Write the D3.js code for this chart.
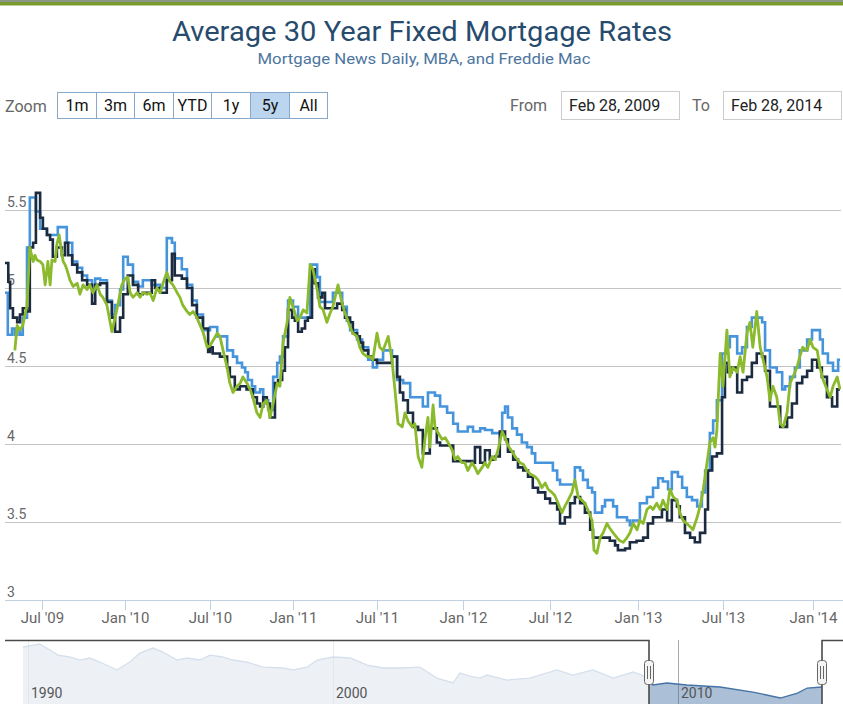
<!DOCTYPE html>
<html><head><meta charset="utf-8">
<script src="https://cdnjs.cloudflare.com/ajax/libs/d3/7.8.5/d3.min.js"></script>
<style>
body{margin:0;background:#fff}
svg{display:block}
text{font-family:Roboto,"Open Sans","Liberation Sans",sans-serif}
</style></head>
<body><svg id="chart" width="843" height="704"></svg>
<script>
// ---------------- DATA ----------------
const titleText = "Average 30 Year Fixed Mortgage Rates";
const subtitleText = "Mortgage News Daily, MBA, and Freddie Mac";
const zoomButtons = ["1m","3m","6m","YTD","1y","5y","All"];
const selectedButton = "5y";
const fromText = "Feb 28, 2009";
const toText = "Feb 28, 2014";
const rangeStart = "2009-04-13";   // first visible date of the (cropped) plot
const rangeEnd = "2014-02-28";
const selectionStart = "2009-02-28";
const xTickDates = ["2009-07-01","2010-01-01","2010-07-01","2011-01-01","2011-07-01","2012-01-01","2012-07-01","2013-01-01","2013-07-01","2014-01-01"];
const xTickLabels = ["Jul '09","Jan '10","Jul '10","Jan '11","Jul '11","Jan '12","Jul '12","Jan '13","Jul '13","Jan '14"];
const yTickValues = [3, 3.5, 4, 4.5, 5, 5.5];
const yTickLabels = ["3","3.5","4","4.5","5","5.5"];
const navTickDates = ["1990-01-01","2000-01-01","2010-01-01"];
const navTickLabels = ["1990","2000","2010"];

// MBA weekly (light blue step line)
const mbaRates = [["2009-04-13",4.97],["2009-04-19",4.70],["2009-04-28",4.74],["2009-05-04",4.70],["2009-05-09",4.74],["2009-05-15",4.70],["2009-05-21",4.81],["2009-05-30",5.26],["2009-06-05",5.58],["2009-06-18",5.49],["2009-06-27",5.38],["2009-07-12",5.34],["2009-08-05",5.39],["2009-08-25",5.29],["2009-09-06",5.17],["2009-09-17",5.13],["2009-09-28",5.08],["2009-10-09",5.05],["2009-10-20",4.99],["2009-10-27",5.06],["2009-11-07",5.05],["2009-11-22",4.92],["2009-12-03",4.83],["2009-12-10",4.89],["2009-12-21",4.99],["2009-12-28",5.20],["2010-01-07",5.15],["2010-01-18",5.04],["2010-01-29",5.01],["2010-02-08",5.05],["2010-02-27",5.02],["2010-03-17",5.00],["2010-03-31",5.32],["2010-04-11",5.29],["2010-04-17",5.19],["2010-05-02",5.12],["2010-05-13",5.02],["2010-05-24",4.92],["2010-06-03",4.83],["2010-06-16",4.73],["2010-07-01",4.75],["2010-07-17",4.69],["2010-08-08",4.60],["2010-08-21",4.56],["2010-08-30",4.52],["2010-09-10",4.49],["2010-09-17",4.46],["2010-09-23",4.41],["2010-10-02",4.37],["2010-10-09",4.33],["2010-10-20",4.35],["2010-10-27",4.28],["2010-11-07",4.22],["2010-11-18",4.43],["2010-11-27",4.52],["2010-12-03",4.56],["2010-12-10",4.69],["2010-12-21",4.92],["2011-01-01",4.88],["2011-01-12",4.81],["2011-02-07",5.15],["2011-02-22",5.07],["2011-02-28",4.91],["2011-03-28",4.97],["2011-04-17",4.88],["2011-04-27",4.79],["2011-05-04",4.73],["2011-05-19",4.67],["2011-05-30",4.62],["2011-06-12",4.54],["2011-06-22",4.49],["2011-07-01",4.54],["2011-07-14",4.60],["2011-08-02",4.56],["2011-08-13",4.41],["2011-08-26",4.39],["2011-09-10",4.30],["2011-10-07",4.24],["2011-10-18",4.33],["2011-11-02",4.31],["2011-11-13",4.24],["2011-11-28",4.20],["2011-12-11",4.13],["2011-12-21",4.08],["2012-01-11",4.11],["2012-01-22",4.08],["2012-02-06",4.10],["2012-02-16",4.09],["2012-03-02",4.07],["2012-03-23",4.20],["2012-03-29",4.24],["2012-04-04",4.17],["2012-04-13",4.10],["2012-04-23",4.06],["2012-05-03",4.01],["2012-05-14",3.98],["2012-05-24",3.94],["2012-05-31",3.88],["2012-07-07",3.83],["2012-07-16",3.77],["2012-07-22",3.74],["2012-08-22",3.85],["2012-09-02",3.83],["2012-09-08",3.77],["2012-09-18",3.72],["2012-09-27",3.69],["2012-10-03",3.56],["2012-10-18",3.60],["2012-10-24",3.64],["2012-11-10",3.60],["2012-11-18",3.53],["2012-12-09",3.51],["2012-12-15",3.48],["2012-12-21",3.51],["2013-01-05",3.62],["2013-01-20",3.66],["2013-02-02",3.72],["2013-02-13",3.78],["2013-02-23",3.76],["2013-03-06",3.71],["2013-03-14",3.82],["2013-03-27",3.79],["2013-04-05",3.72],["2013-04-15",3.66],["2013-04-26",3.64],["2013-05-07",3.60],["2013-05-17",3.69],["2013-05-24",3.83],["2013-06-03",4.07],["2013-06-10",4.15],["2013-06-18",4.28],["2013-06-29",4.58],["2013-07-09",4.62],["2013-07-15",4.69],["2013-07-30",4.58],["2013-08-09",4.62],["2013-08-19",4.75],["2013-08-29",4.81],["2013-09-19",4.78],["2013-09-25",4.60],["2013-10-05",4.49],["2013-10-19",4.46],["2013-10-30",4.35],["2013-11-05",4.37],["2013-11-15",4.43],["2013-11-25",4.49],["2013-12-05",4.60],["2013-12-20",4.67],["2013-12-30",4.73],["2014-01-16",4.67],["2014-01-22",4.58],["2014-02-02",4.52],["2014-02-13",4.47],["2014-02-24",4.54]];

// Freddie Mac weekly (dark navy step line)
const freddieRates = [["2009-04-13",5.16],["2009-04-20",5.04],["2009-04-24",4.87],["2009-04-30",4.81],["2009-05-09",4.78],["2009-05-15",4.83],["2009-05-21",4.87],["2009-05-30",4.85],["2009-06-05",5.26],["2009-06-12",5.29],["2009-06-18",5.61],["2009-06-27",5.45],["2009-07-03",5.38],["2009-07-12",5.34],["2009-07-19",5.31],["2009-07-25",5.20],["2009-08-03",5.26],["2009-08-14",5.21],["2009-08-21",5.29],["2009-08-28",5.21],["2009-09-06",5.15],["2009-09-17",5.10],["2009-09-28",5.05],["2009-10-09",5.02],["2009-10-20",4.90],["2009-10-27",5.02],["2009-11-07",5.03],["2009-11-22",4.91],["2009-12-03",4.81],["2009-12-10",4.72],["2009-12-21",4.81],["2009-12-28",4.96],["2010-01-07",5.08],["2010-01-18",5.02],["2010-01-29",4.96],["2010-02-08",4.97],["2010-02-27",5.05],["2010-03-06",5.00],["2010-03-17",4.97],["2010-03-31",5.05],["2010-04-11",5.22],["2010-04-17",5.08],["2010-05-02",5.06],["2010-05-13",5.00],["2010-05-24",4.89],["2010-06-03",4.81],["2010-06-16",4.74],["2010-06-27",4.59],["2010-07-01",4.62],["2010-07-07",4.58],["2010-07-23",4.56],["2010-08-08",4.49],["2010-08-14",4.43],["2010-08-25",4.35],["2010-09-05",4.37],["2010-09-20",4.35],["2010-10-04",4.30],["2010-10-13",4.26],["2010-10-20",4.24],["2010-10-27",4.30],["2010-11-04",4.26],["2010-11-11",4.17],["2010-11-22",4.39],["2010-11-29",4.41],["2010-12-08",4.47],["2010-12-14",4.62],["2010-12-21",4.86],["2010-12-30",4.81],["2011-01-05",4.79],["2011-01-12",4.72],["2011-01-20",4.74],["2011-01-27",4.79],["2011-02-02",4.81],["2011-02-11",5.12],["2011-02-17",5.03],["2011-02-24",4.94],["2011-03-05",4.97],["2011-03-11",4.87],["2011-04-06",4.90],["2011-04-17",4.86],["2011-04-23",4.81],["2011-05-04",4.78],["2011-05-10",4.71],["2011-05-19",4.69],["2011-05-25",4.65],["2011-06-01",4.60],["2011-06-12",4.56],["2011-06-22",4.54],["2011-07-01",4.52],["2011-08-02",4.56],["2011-08-13",4.43],["2011-08-19",4.33],["2011-08-26",4.28],["2011-09-05",4.20],["2011-09-16",4.11],["2011-09-27",4.09],["2011-10-07",3.94],["2011-10-22",4.10],["2011-11-06",4.01],["2011-11-13",3.99],["2011-12-11",3.89],["2012-01-20",3.88],["2012-01-26",3.98],["2012-02-06",3.88],["2012-02-16",3.96],["2012-02-26",3.90],["2012-03-08",3.92],["2012-03-18",4.08],["2012-03-29",4.03],["2012-04-04",3.95],["2012-04-15",3.90],["2012-04-25",3.85],["2012-05-06",3.83],["2012-05-16",3.79],["2012-05-26",3.72],["2012-06-06",3.69],["2012-06-21",3.65],["2012-07-01",3.62],["2012-07-16",3.58],["2012-07-22",3.49],["2012-08-01",3.53],["2012-08-12",3.62],["2012-08-22",3.66],["2012-09-02",3.62],["2012-09-12",3.56],["2012-09-23",3.45],["2012-09-29",3.40],["2012-11-03",3.38],["2012-11-14",3.35],["2012-11-20",3.32],["2012-12-05",3.33],["2012-12-15",3.37],["2012-12-29",3.38],["2013-01-12",3.40],["2013-01-22",3.49],["2013-02-02",3.53],["2013-02-21",3.58],["2013-03-04",3.51],["2013-03-14",3.64],["2013-03-25",3.60],["2013-03-31",3.53],["2013-04-11",3.43],["2013-04-22",3.40],["2013-05-02",3.37],["2013-05-13",3.43],["2013-05-24",3.58],["2013-05-30",3.83],["2013-06-08",3.92],["2013-06-18",3.94],["2013-06-29",4.30],["2013-07-05",4.52],["2013-07-11",4.46],["2013-07-19",4.49],["2013-07-30",4.33],["2013-08-09",4.41],["2013-08-19",4.43],["2013-08-29",4.52],["2013-09-08",4.58],["2013-09-19",4.56],["2013-09-25",4.47],["2013-10-05",4.24],["2013-10-26",4.11],["2013-11-09",4.17],["2013-11-19",4.26],["2013-11-29",4.39],["2013-12-10",4.43],["2013-12-20",4.47],["2013-12-30",4.54],["2014-01-10",4.49],["2014-01-20",4.43],["2014-01-31",4.30],["2014-02-11",4.24],["2014-02-22",4.35]];

// Mortgage News Daily (green, daily)
const mndRates = [["2009-05-04",4.60],["2009-05-09",4.76],["2009-05-15",4.73],["2009-05-21",4.76],["2009-05-30",4.89],["2009-06-05",5.26],["2009-06-12",5.17],["2009-06-16",5.21],["2009-06-20",5.18],["2009-06-27",5.17],["2009-07-03",5.15],["2009-07-08",5.02],["2009-07-14",5.17],["2009-07-19",5.02],["2009-07-23",5.18],["2009-07-30",5.17],["2009-08-03",5.28],["2009-08-08",5.34],["2009-08-12",5.26],["2009-08-17",5.17],["2009-08-21",5.15],["2009-08-25",5.12],["2009-09-01",5.05],["2009-09-08",5.01],["2009-09-17",5.03],["2009-09-23",4.96],["2009-09-30",5.02],["2009-10-09",4.99],["2009-10-15",5.02],["2009-10-22",4.97],["2009-10-31",5.02],["2009-11-07",4.96],["2009-11-13",4.94],["2009-11-22",4.89],["2009-11-29",4.78],["2009-12-03",4.72],["2009-12-10",4.81],["2009-12-16",4.89],["2009-12-25",5.02],["2010-01-01",5.06],["2010-01-07",5.07],["2010-01-12",4.97],["2010-01-18",4.94],["2010-01-27",4.97],["2010-02-02",4.94],["2010-02-08",4.97],["2010-02-17",4.96],["2010-02-23",4.97],["2010-03-02",4.92],["2010-03-10",5.00],["2010-03-17",4.97],["2010-03-23",5.03],["2010-03-31",5.10],["2010-04-07",5.04],["2010-04-13",5.02],["2010-04-22",4.97],["2010-04-28",4.94],["2010-05-04",4.89],["2010-05-13",4.85],["2010-05-19",4.83],["2010-05-26",4.85],["2010-06-03",4.81],["2010-06-10",4.76],["2010-06-16",4.72],["2010-06-25",4.62],["2010-07-01",4.63],["2010-07-17",4.71],["2010-07-23",4.69],["2010-07-30",4.60],["2010-08-08",4.49],["2010-08-14",4.39],["2010-08-21",4.33],["2010-08-30",4.37],["2010-09-06",4.39],["2010-09-12",4.43],["2010-09-21",4.39],["2010-09-28",4.35],["2010-10-04",4.30],["2010-10-13",4.20],["2010-10-20",4.17],["2010-10-27",4.26],["2010-11-04",4.28],["2010-11-11",4.17],["2010-11-18",4.26],["2010-11-27",4.39],["2010-12-03",4.37],["2010-12-10",4.65],["2010-12-19",4.78],["2010-12-25",4.94],["2011-01-01",4.88],["2011-01-10",4.79],["2011-01-16",4.81],["2011-01-23",4.86],["2011-01-31",4.84],["2011-02-07",5.15],["2011-02-13",5.12],["2011-02-22",4.99],["2011-02-28",4.88],["2011-03-07",4.86],["2011-03-15",4.78],["2011-03-22",4.84],["2011-03-28",4.88],["2011-04-08",5.02],["2011-04-17",4.90],["2011-04-23",4.84],["2011-05-04",4.75],["2011-05-10",4.71],["2011-05-19",4.69],["2011-05-25",4.62],["2011-06-01",4.58],["2011-06-10",4.56],["2011-06-16",4.56],["2011-06-22",4.54],["2011-07-01",4.71],["2011-07-07",4.62],["2011-07-14",4.60],["2011-07-25",4.69],["2011-08-02",4.54],["2011-08-09",4.33],["2011-08-15",4.13],["2011-08-24",4.11],["2011-08-30",4.20],["2011-09-05",4.15],["2011-09-14",4.11],["2011-09-20",4.13],["2011-09-27",3.92],["2011-10-05",3.85],["2011-10-12",4.04],["2011-10-18",4.17],["2011-10-22",3.98],["2011-10-29",4.25],["2011-11-02",4.11],["2011-11-09",4.07],["2011-11-17",4.03],["2011-11-24",4.04],["2011-11-30",4.01],["2011-12-09",3.96],["2011-12-15",3.90],["2011-12-21",3.92],["2011-12-30",3.88],["2012-01-05",3.88],["2012-01-11",3.83],["2012-01-20",3.88],["2012-01-26",3.85],["2012-02-01",3.81],["2012-02-10",3.85],["2012-02-16",3.88],["2012-02-22",3.85],["2012-03-02",3.92],["2012-03-08",3.90],["2012-03-14",3.96],["2012-03-23",4.08],["2012-03-29",4.04],["2012-04-04",3.99],["2012-04-13",3.95],["2012-04-19",3.92],["2012-04-29",3.88],["2012-05-06",3.87],["2012-05-14",3.83],["2012-05-20",3.81],["2012-05-31",3.79],["2012-06-06",3.77],["2012-06-14",3.72],["2012-06-21",3.75],["2012-06-27",3.71],["2012-07-05",3.69],["2012-07-11",3.67],["2012-07-18",3.62],["2012-07-26",3.56],["2012-08-01",3.60],["2012-08-08",3.64],["2012-08-16",3.69],["2012-08-22",3.77],["2012-08-29",3.66],["2012-09-06",3.64],["2012-09-12",3.62],["2012-09-18",3.58],["2012-09-27",3.51],["2012-10-01",3.32],["2012-10-07",3.30],["2012-10-14",3.40],["2012-10-20",3.43],["2012-10-28",3.49],["2012-11-03",3.46],["2012-11-10",3.43],["2012-11-18",3.40],["2012-11-24",3.38],["2012-12-01",3.37],["2012-12-09",3.40],["2012-12-15",3.43],["2012-12-22",3.49],["2012-12-30",3.45],["2013-01-05",3.51],["2013-01-12",3.49],["2013-01-20",3.58],["2013-01-27",3.60],["2013-02-02",3.58],["2013-02-10",3.62],["2013-02-17",3.58],["2013-02-23",3.64],["2013-03-04",3.58],["2013-03-10",3.71],["2013-03-17",3.66],["2013-03-25",3.64],["2013-03-31",3.56],["2013-04-07",3.51],["2013-04-15",3.49],["2013-04-22",3.47],["2013-04-28",3.45],["2013-05-07",3.53],["2013-05-13",3.60],["2013-05-19",3.69],["2013-05-28",3.88],["2013-06-03",4.01],["2013-06-10",4.04],["2013-06-14",3.98],["2013-06-18",4.09],["2013-06-25",4.58],["2013-07-01",4.37],["2013-07-09",4.73],["2013-07-15",4.43],["2013-07-21",4.49],["2013-07-30",4.46],["2013-08-05",4.56],["2013-08-11",4.46],["2013-08-19",4.71],["2013-08-25",4.78],["2013-08-31",4.62],["2013-09-08",4.85],["2013-09-15",4.62],["2013-09-21",4.54],["2013-09-29",4.43],["2013-10-05",4.28],["2013-10-11",4.37],["2013-10-19",4.30],["2013-10-26",4.13],["2013-11-01",4.11],["2013-11-09",4.20],["2013-11-15",4.39],["2013-11-21",4.43],["2013-11-29",4.49],["2013-12-05",4.56],["2013-12-11",4.62],["2013-12-20",4.60],["2013-12-26",4.67],["2014-01-01",4.62],["2014-01-10",4.60],["2014-01-16",4.49],["2014-01-23",4.41],["2014-01-31",4.35],["2014-02-07",4.30],["2014-02-13",4.37],["2014-02-22",4.43],["2014-02-28",4.35]];

// Navigator (long history)
const navRates = [["1989-11-01",9.95],["1990-05-20",10.34],["1990-09-20",9.56],["1990-12-25",8.91],["1991-05-15",8.66],["1991-09-15",8.27],["1992-01-10",8.53],["1992-05-10",8.01],["1992-12-01",6.98],["1993-05-05",8.01],["1993-09-01",9.17],["1994-02-05",9.82],["1994-06-05",9.30],["1994-11-20",8.27],["1995-03-20",8.53],["1995-08-20",8.27],["1995-12-20",8.91],["1996-05-20",8.66],["1996-09-20",8.27],["1997-03-05",8.01],["1997-09-15",7.36],["1998-05-10",7.24],["1998-09-10",6.98],["1999-02-25",7.36],["1999-06-25",8.27],["2000-01-01",8.66],["2000-06-30",8.53],["2000-12-28",7.62],["2001-06-15",7.24],["2001-12-10",7.24],["2002-07-08",7.36],["2003-01-05",5.94],["2003-06-25",5.30],["2003-09-05",6.59],["2003-12-20",6.20],["2004-04-05",5.94],["2004-06-20",6.33],["2005-01-15",5.68],["2005-09-15",5.94],["2006-06-28",6.98],["2006-12-15",6.33],["2007-07-15",6.98],["2008-02-15",5.94],["2008-09-12",6.72],["2009-02-05",6.07],["2009-04-10",5.04],["2009-09-05",5.30],["2010-04-05",5.04],["2011-03-20",4.78],["2012-03-01",4.13],["2012-12-15",3.36],["2013-06-15",4.00],["2013-09-25",4.65],["2014-02-28",4.78]];

// ---------------- DRAW ----------------
const parse = d3.timeParse("%Y-%m-%d");
const W = 843;
const svg = d3.select("#chart");
const FONT = 'Roboto,"Open Sans",sans-serif';

// top stripe
svg.append("rect").attr("x",0).attr("y",0).attr("width",W).attr("height",2).attr("fill","#8b9588");
svg.append("rect").attr("x",0).attr("y",2).attr("width",W).attr("height",3.5).attr("fill","#7c9b2f");

// titles
svg.append("text").attr("x",422).attr("y",41).attr("text-anchor","middle")
  .attr("font-size",27).attr("fill","#274b6d")
  .attr("textLength",500).attr("lengthAdjust","spacingAndGlyphs").text(titleText);
svg.append("text").attr("x",424).attr("y",64).attr("text-anchor","middle")
  .attr("font-size",15).attr("fill","#4d759e")
  .attr("textLength",333).attr("lengthAdjust","spacingAndGlyphs").text(subtitleText);

// range selector
svg.append("text").attr("x",5).attr("y",112).attr("font-size",16).attr("fill","#666").text("Zoom");
const btnEdges = [57,96,134,173,211,250,289,327];
const btnG = svg.append("g");
zoomButtons.forEach((b,i)=>{
  const x0 = btnEdges[i], x1 = btnEdges[i+1];
  btnG.append("rect").attr("x",x0+0.5).attr("y",92.5).attr("width",x1-x0).attr("height",26)
    .attr("fill", b===selectedButton ? "#bcd5ee" : "#fff").attr("stroke","#86a9cc").attr("stroke-width",1);
  btnG.append("text").attr("x",(x0+x1)/2+0.5).attr("y",111).attr("text-anchor","middle")
    .attr("font-size",16).attr("fill","#111").text(b);
});
svg.append("text").attr("x",510).attr("y",111).attr("font-size",16).attr("fill","#666").text("From");
svg.append("rect").attr("x",561.5).attr("y",91.5).attr("width",118).attr("height",28).attr("fill","#fff").attr("stroke","#ccc");
svg.append("text").attr("x",569).attr("y",111).attr("font-size",16).attr("fill","#222").text(fromText);
svg.append("text").attr("x",692).attr("y",111).attr("font-size",16).attr("fill","#666").text("To");
svg.append("rect").attr("x",723.5).attr("y",91.5).attr("width",118).attr("height",28).attr("fill","#fff").attr("stroke","#ccc");
svg.append("text").attr("x",731).attr("y",111).attr("font-size",16).attr("fill","#222").text(toText);

// scales (ordinal-like axis: piecewise time scale calibrated on the tick dates)
const xDomain = [parse(rangeStart), ...xTickDates.map(parse), parse(rangeEnd)];
const x = d3.scaleTime().domain(xDomain).range([5,42,125,210,293,377,463,550,638,723,813,840]);
const y = d3.scaleLinear().domain([3, 5.5]).range([600, 210]);

// y axis / gridlines
const yAxisG = svg.append("g").attr("transform","translate(5,0)")
  .call(d3.axisRight(y).tickValues(yTickValues).tickSize(836).tickFormat((d,i)=>yTickLabels[i]));
yAxisG.select(".domain").remove();
yAxisG.selectAll(".tick line").attr("stroke",d=>d===3?"none":"#c4c4c4").attr("stroke-width",1.2);
yAxisG.selectAll(".tick text").attr("x",2).attr("dy",-4).attr("text-anchor","start")
  .attr("font-size",14).attr("fill","#666").attr("font-family",FONT);

// x axis
const xAxisG = svg.append("g").attr("transform","translate(0,600)")
  .call(d3.axisBottom(x).tickValues(xTickDates.map(parse)).tickSize(10).tickSizeOuter(0)
    .tickFormat((d,i)=>xTickLabels[i]));
xAxisG.select(".domain").attr("stroke","#c0d0e0").attr("stroke-width",1.2).attr("d","M5,0.5H843");
xAxisG.selectAll(".tick line").attr("stroke","#c0d0e0");
xAxisG.selectAll(".tick text").attr("font-size",15).attr("fill","#666").attr("font-family",FONT).attr("y",12);

// series
svg.append("clipPath").attr("id","plotClip").append("rect").attr("x",5).attr("y",120).attr("width",836).attr("height",490);
const plot = svg.append("g").attr("clip-path","url(#plotClip)");
const toPts = arr => arr.map(d=>({date:parse(d[0]), value:d[1]}));
const withEnd = arr => { const p = toPts(arr); p.push({date:parse(rangeEnd), value:p[p.length-1].value}); return p; };
const stepLine = d3.line().x(d=>x(d.date)).y(d=>y(d.value)).curve(d3.curveStepAfter);
const plainLine = d3.line().x(d=>x(d.date)).y(d=>y(d.value));

plot.append("path").datum(withEnd(mbaRates)).attr("d",stepLine)
  .attr("fill","none").attr("stroke","#4594dc").attr("stroke-width",2.6);
plot.append("path").datum(withEnd(freddieRates)).attr("d",stepLine)
  .attr("fill","none").attr("stroke","#1b2b40").attr("stroke-width",2.6);
plot.append("path").datum(toPts(mndRates)).attr("d",plainLine)
  .attr("fill","none").attr("stroke","#8cba2d").attr("stroke-width",2.8).attr("stroke-linejoin","round");

// navigator
const navX = d3.scaleTime().domain(navTickDates.map(parse).concat([parse(rangeEnd)])).range([28,333,678,822]);
const navY = d3.scaleLinear().domain([3.36, 10.34]).range([698, 644]);
const navG = svg.append("g");
const navAxisG = navG.append("g").attr("transform","translate(0,640)")
  .call(d3.axisBottom(navX).tickValues(navTickDates.map(parse)).tickSize(70).tickFormat((d,i)=>navTickLabels[i]));
navAxisG.select(".domain").remove();
navAxisG.selectAll(".tick line").attr("stroke","#aaa");
navAxisG.selectAll(".tick text").remove();
const navPts = toPts(navRates);
navG.append("path").datum(navPts)
  .attr("d", d3.area().x(d=>navX(d.date)).y0(712).y1(d=>navY(d.value)))
  .attr("fill","#4572a7").attr("fill-opacity",0.45);
navG.append("path").datum(navPts)
  .attr("d", d3.line().x(d=>navX(d.date)).y(d=>navY(d.value)))
  .attr("fill","none").attr("stroke","#4572a7").attr("stroke-width",1.3);
const selX0 = navX(parse(selectionStart)), selX1 = navX(parse(rangeEnd));
navG.append("rect").attr("x",0).attr("y",640).attr("width",selX0).attr("height",70).attr("fill","#fff").attr("fill-opacity",0.78);
navG.append("rect").attr("x",selX1).attr("y",640).attr("width",W-selX1).attr("height",70).attr("fill","#fff").attr("fill-opacity",0.78);
// labels
navTickDates.forEach((d,i)=>{
  const tx = Math.max(navX(parse(d)) + 3, 31);
  navG.append("text").attr("x",tx).attr("y",698).attr("font-size",14).attr("fill","#555").text(navTickLabels[i]);
});
// outline
navG.append("path").attr("d",`M5,640.5H${selX0}V710M${selX1},710V640.5H843`)
  .attr("fill","none").attr("stroke","#4a4a4a").attr("stroke-width",1.6);
// handles
[selX0, selX1].forEach(hx=>{
  const h = navG.append("g").attr("transform",`translate(${Math.round(hx)},0)`);
  h.append("rect").attr("x",-4.5).attr("y",660.5).attr("width",9).attr("height",24).attr("rx",3)
    .attr("fill","#f4f4f4").attr("stroke","#666").attr("stroke-width",1);
  h.append("path").attr("d","M-1.5,666V679M1.5,666V679").attr("stroke","#666").attr("stroke-width",1);
});
</script>
</body></html>
